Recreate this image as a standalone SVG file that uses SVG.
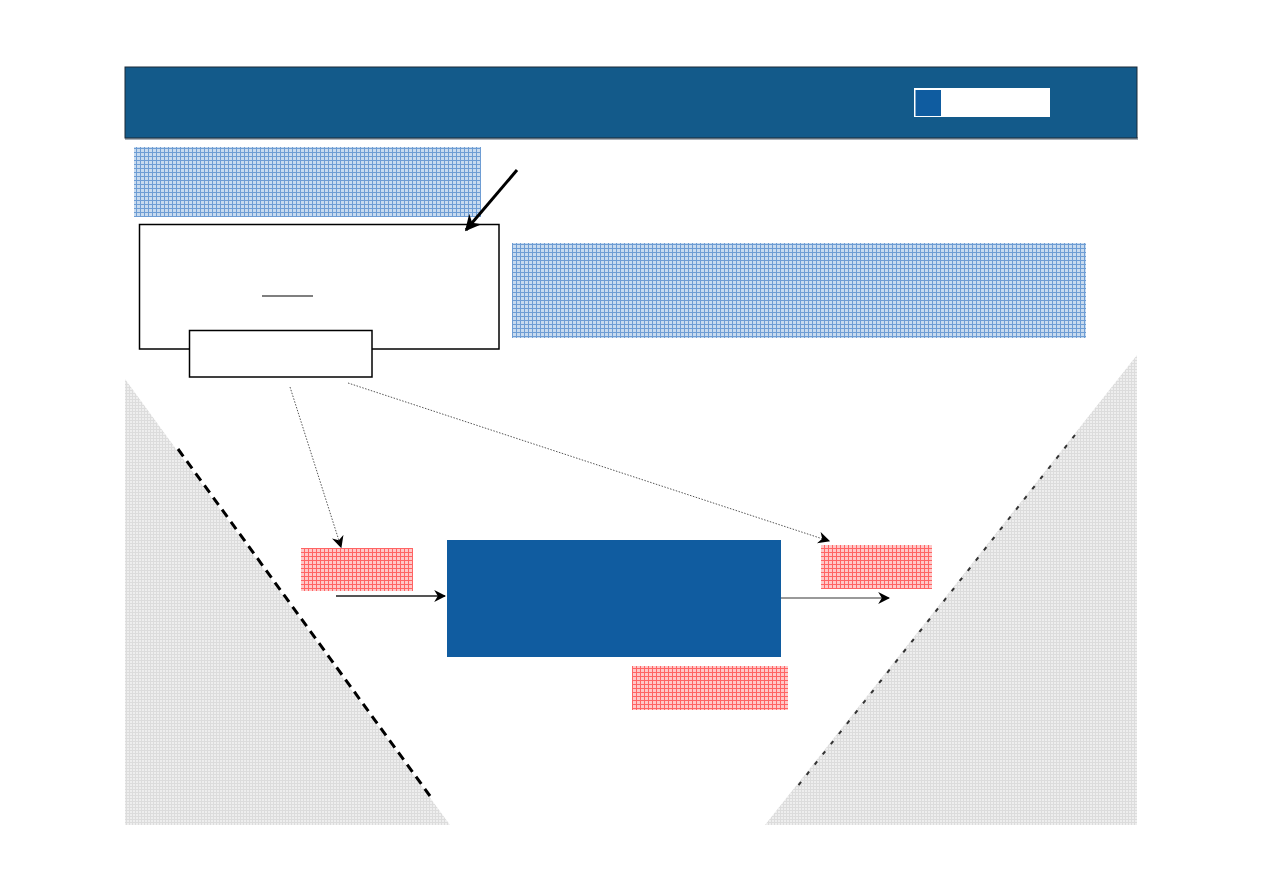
<svg xmlns="http://www.w3.org/2000/svg" width="1263" height="893" viewBox="0 0 1263 893">
<style>
.box{fill:#ffffff;stroke:#000000;stroke-width:1.5}
.dot{fill:none;stroke:#555555;stroke-width:1;stroke-dasharray:1.5 1.5}
</style>
<defs>
<pattern id="pblue" width="4" height="4" patternUnits="userSpaceOnUse">
<rect width="4" height="4" fill="#c8dbef"/>
<path d="M0 0.5H4M0.5 0V4" stroke="#6e9dd4" stroke-width="1"/>
</pattern>
<pattern id="pred" width="4" height="4" patternUnits="userSpaceOnUse">
<rect width="4" height="4" fill="#ffc8c8"/>
<path d="M0 0.5H4M0.5 0V4" stroke="#ff6464" stroke-width="1"/>
</pattern>
<pattern id="pgrey" width="3" height="3" patternUnits="userSpaceOnUse">
<rect width="3" height="3" fill="#eeeeee"/>
<path d="M0 0.5H3M0.5 0V3" stroke="#dcdcdc" stroke-width="1"/>
</pattern>
<marker id="ah" viewBox="0 0 10 10" refX="9" refY="5" markerWidth="12" markerHeight="12" markerUnits="userSpaceOnUse" orient="auto">
<path d="M0,0 L10,5 L0,10 L3,5 z" fill="#000000"/>
</marker>
<marker id="ahbig" viewBox="0 0 10 10" refX="9" refY="5" markerWidth="16" markerHeight="16" markerUnits="userSpaceOnUse" orient="auto">
<path d="M0,0 L10,5 L0,10 L3,5 z" fill="#000000"/>
</marker>
</defs>
<rect width="1263" height="893" fill="#ffffff"/>

<g id="header">
<rect x="125" y="137" width="1013" height="3" fill="#a8b0b8"/>
<rect x="125" y="67" width="1012" height="71" fill="#135a8a" stroke="#1b2a38" stroke-width="1"/>
<rect x="914" y="88" width="136" height="29" fill="#ffffff"/>
<rect x="915.5" y="90" width="25.5" height="26" fill="#0f5ca0"/>
</g>

<g id="bg-left">
<polygon points="125,379 450,825 125,825" fill="url(#pgrey)"/>
<line x1="178" y1="449" x2="430" y2="796" stroke="#000000" stroke-width="3" stroke-dasharray="9 6"/>
</g>
<g id="bg-right">
<polygon points="1137,355 1137,825 765,825" fill="url(#pgrey)"/>
<line x1="1075" y1="435" x2="797" y2="787" stroke="#333333" stroke-width="2" stroke-dasharray="4 9"/>
</g>

<g id="note-top"><rect x="134" y="147" width="347" height="70" fill="url(#pblue)"/></g>
<g id="note-right"><rect x="512" y="243" width="574" height="95" fill="url(#pblue)"/></g>

<g id="big-box">
<rect class="box" x="139.5" y="224.5" width="359.5" height="124.5"/>
<line x1="262" y1="296" x2="313" y2="296" stroke="#000000" stroke-width="1.2"/>
</g>
<g id="small-box"><rect class="box" x="189.5" y="330.5" width="182.5" height="46.5"/></g>

<g id="red-left"><rect x="301" y="548" width="112" height="43" fill="url(#pred)"/></g>
<g id="red-right"><rect x="821" y="545" width="111" height="44" fill="url(#pred)"/></g>
<g id="red-bottom"><rect x="632" y="666" width="156" height="44" fill="url(#pred)"/></g>

<g id="process"><rect x="447" y="540" width="334" height="117" fill="#105ca0"/></g>

<g id="connectors">
<line x1="517" y1="170" x2="466" y2="230" stroke="#000000" stroke-width="3" marker-end="url(#ahbig)"/>
<line class="dot" x1="290" y1="387" x2="341" y2="547" marker-end="url(#ah)"/>
<line class="dot" x1="348" y1="383" x2="829" y2="541" marker-end="url(#ah)"/>
<line x1="336" y1="596" x2="445" y2="596" stroke="#555555" stroke-width="2" marker-end="url(#ah)"/>
<line x1="781" y1="598" x2="889" y2="598" stroke="#999999" stroke-width="2" marker-end="url(#ah)"/>
</g>
</svg>
